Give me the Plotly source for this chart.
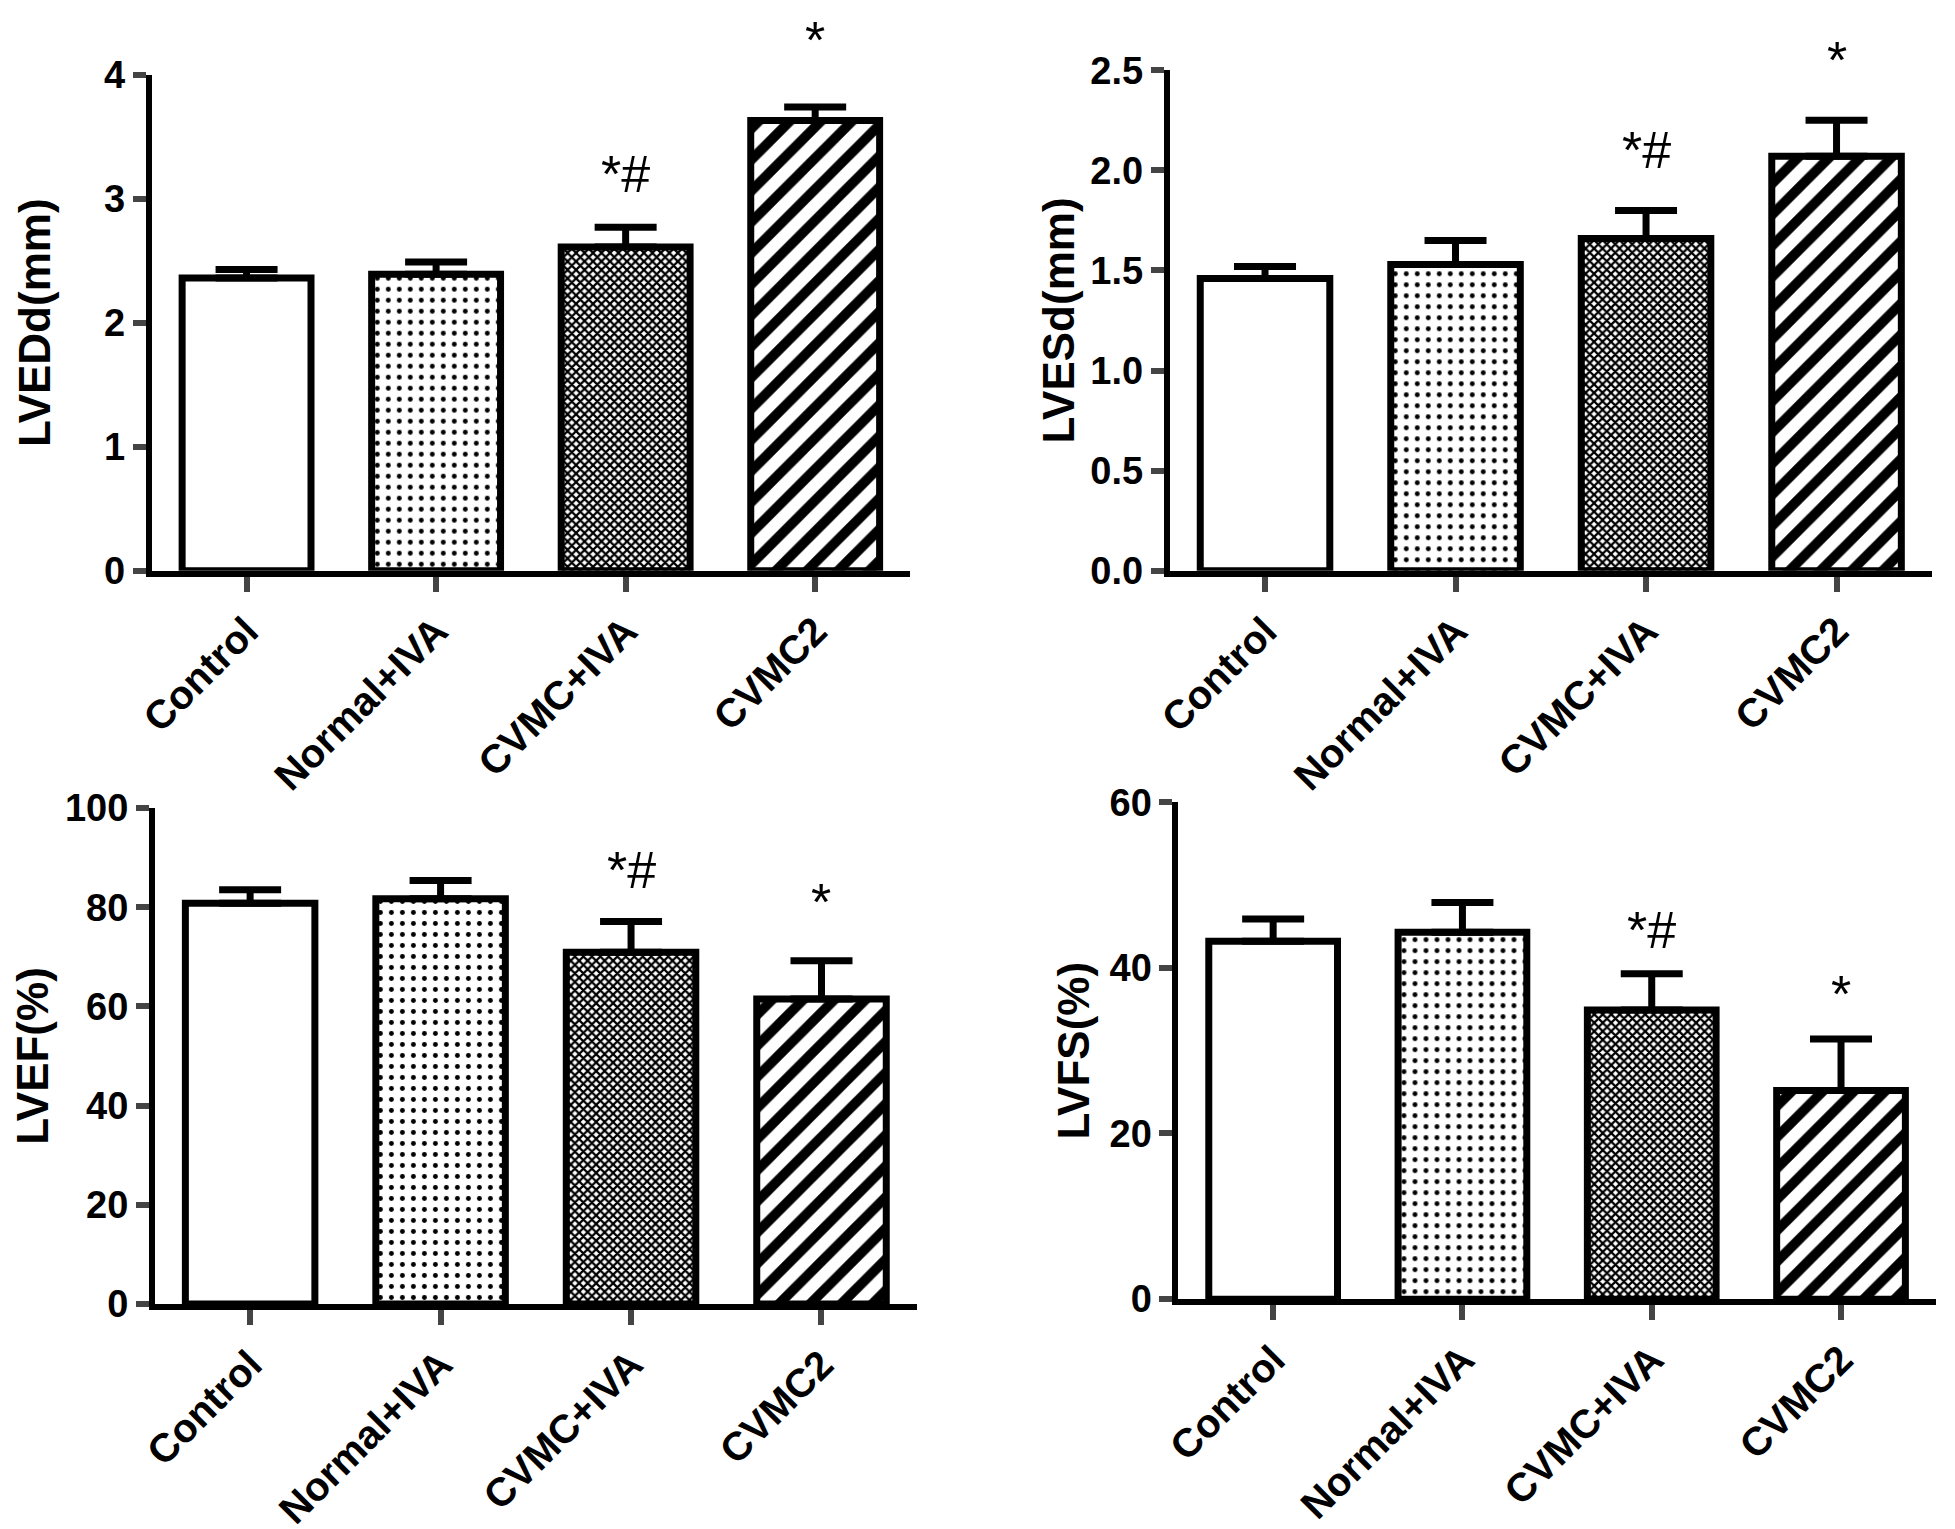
import plotly.graph_objects as go

groups = ["Control", "Normal+IVA", "CVMC+IVA", "CVMC2"]

lvedd_mean = [2.36, 2.39, 2.61, 3.63]
lvedd_err = [0.07, 0.10, 0.16, 0.11]
lvesd_mean = [1.46, 1.53, 1.66, 2.07]
lvesd_err = [0.06, 0.12, 0.14, 0.18]
lvef_mean = [80.8, 81.7, 70.9, 61.5]
lvef_err = [2.7, 3.7, 6.2, 7.7]
lvfs_mean = [43.2, 44.3, 34.9, 25.2]
lvfs_err = [2.7, 3.6, 4.4, 6.2]

# significance marks and the height (data units) they sit at
sig_text = ["", "", "*#", "*"]
lvedd_sig_y = [0, 0, 3.2, 4.28]
lvesd_sig_y = [0, 0, 2.1, 2.55]
lvef_sig_y = [0, 0, 87.5, 81]
lvfs_sig_y = [0, 0, 44.6, 36.8]

# page body has an 8px margin, nudge domains back
dx = 8 / 1955
dy = 8 / 1529

panels = [
    dict(mean=lvedd_mean, err=lvedd_err, sig=lvedd_sig_y, title="LVEDd(mm)",
         yrange=[0, 4], dtick=1, fmt="d", standoff=42,
         xdom=[0.070, 0.461], ydom=[0.6305, 0.964]),
    dict(mean=lvesd_mean, err=lvesd_err, sig=lvesd_sig_y, title="LVESd(mm)",
         yrange=[0, 2.5], dtick=0.5, fmt=".1f", standoff=4,
         xdom=[0.595, 0.988], ydom=[0.6305, 0.967]),
    dict(mean=lvef_mean, err=lvef_err, sig=lvef_sig_y, title="LVEF(%)",
         yrange=[0, 100], dtick=20, fmt="d", standoff=20,
         xdom=[0.0716, 0.4645], ydom=[0.1373, 0.4709]),
    dict(mean=lvfs_mean, err=lvfs_err, sig=lvfs_sig_y, title="LVFS(%)",
         yrange=[0, 60], dtick=20, fmt="d", standoff=8,
         xdom=[0.5995, 0.990], ydom=[0.1406, 0.4748]),
]

patterns = [
    dict(shape=""),
    dict(shape=".", size=11, solidity=0.16, fgcolor="black", bgcolor="white", fgopacity=1),
    dict(shape="x", size=6, solidity=0.6, fgcolor="black", bgcolor="white", fgopacity=1),
    dict(shape="/", size=22, solidity=0.45, fgcolor="black", bgcolor="white", fgopacity=1),
]

font = "Liberation Sans"
fig = go.Figure()
xpos = list(range(len(groups)))

for i, p in enumerate(panels):
    ax = "" if i == 0 else str(i + 1)
    for j in xpos:
        fig.add_trace(go.Bar(
            x=[j], y=[p["mean"][j]],
            width=0.68,
            marker=dict(color="white", line=dict(color="black", width=7),
                        pattern=patterns[j]),
            error_y=dict(type="data", symmetric=False,
                         array=[p["err"][j]], arrayminus=[0],
                         color="black", thickness=7, width=31),
            xaxis="x" + ax, yaxis="y" + ax, showlegend=False,
        ))
    for j in xpos:
        if sig_text[j]:
            # y domain fraction so marks above the axis top still show
            fig.add_annotation(
                x=j, y=p["sig"][j] / p["yrange"][1], text=sig_text[j],
                showarrow=False, xref="x" + ax, yref="y" + ax + " domain",
                xanchor="center", yanchor="middle",
                font=dict(family=font, size=52, color="black"),
            )
    fig.update_layout({
        "xaxis" + ax: dict(
            domain=[p["xdom"][0] - dx, p["xdom"][1] - dx],
            anchor="y" + ax, range=[-0.5, 3.5],
            tickvals=xpos, ticktext=groups,
            tickangle=-45, ticks="outside", ticklen=15, tickwidth=6,
            showline=True, linewidth=6, linecolor="black",
            showgrid=False, zeroline=False,
            tickfont=dict(family=font, size=40, color="black", weight="bold"),
        ),
        "yaxis" + ax: dict(
            domain=[p["ydom"][0] + dy, p["ydom"][1] + dy],
            anchor="x" + ax, range=p["yrange"],
            dtick=p["dtick"], tickformat=p["fmt"],
            ticks="outside", ticklen=13, tickwidth=6,
            showline=True, linewidth=6, linecolor="black",
            showgrid=False, zeroline=False,
            tickfont=dict(family=font, size=38, color="black", weight="bold"),
            title=dict(text=p["title"], standoff=p["standoff"],
                       font=dict(family=font, size=44, color="black", weight="bold")),
        ),
    })

fig.update_layout(
    width=1955, height=1529,
    margin=dict(l=0, r=0, t=0, b=0),
    plot_bgcolor="white", paper_bgcolor="white",
)

fig.write_html("out.html")
